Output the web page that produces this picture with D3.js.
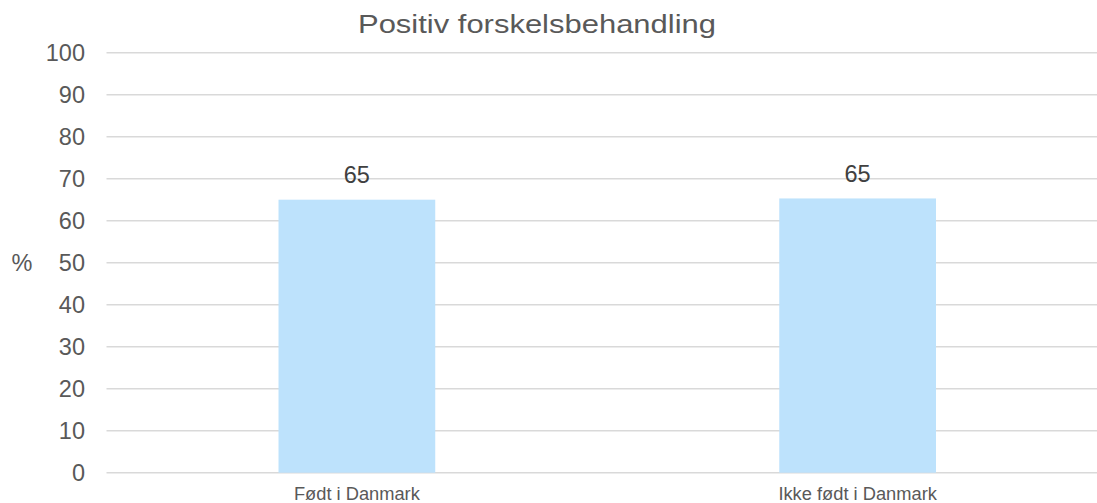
<!DOCTYPE html>
<html><head><meta charset="utf-8">
<script src="https://cdn.jsdelivr.net/npm/d3@7"></script>
<style>body{margin:0;background:#fff}svg{display:block;font-family:Arial,"Liberation Sans",sans-serif}</style>
</head><body><div id="chart"></div>
<script>
const categories = ["Født i Danmark", "Ikke født i Danmark"];
const values = [65.0, 65.3];
const valueLabels = ["65", "65"];
const yTicks = [0,10,20,30,40,50,60,70,80,90,100];
const title = "Positiv forskelsbehandling";
const yAxisLabel = "%";

const W = 1097, H = 503;
const m = {left:106.5, right:-11, top:52.7, bottom:30.3};
const svg = d3.select("#chart").append("svg").attr("width",W).attr("height",H);
const x = d3.scaleBand().domain(categories).range([m.left, W-m.right]).paddingInner(0.687).paddingOuter(0.3435);
const y = d3.scaleLinear().domain([0,100]).range([H-m.bottom, m.top]);

svg.append("g").selectAll("line").data(yTicks).join("line")
  .attr("x1", m.left).attr("x2", W-m.right)
  .attr("y1", d=>y(d)).attr("y2", d=>y(d))
  .attr("stroke","#d9d9d9").attr("stroke-width",1.5);

svg.append("g").selectAll("text").data(yTicks).join("text")
  .attr("x", 85).attr("y", d=>y(d)).attr("dy","0.35em")
  .attr("text-anchor","end").attr("font-size",23.5).attr("fill","#595959").text(d=>d);

svg.append("g").selectAll("rect").data(values).join("rect")
  .attr("x",(d,i)=>x(categories[i])).attr("width",x.bandwidth())
  .attr("y",d=>y(d)).attr("height",d=>y(0)-y(d)).attr("fill","#bde2fc");

svg.append("g").selectAll("text").data(values).join("text")
  .attr("x",(d,i)=>x(categories[i])+x.bandwidth()/2).attr("y",d=>y(d)-16.5)
  .attr("text-anchor","middle").attr("font-size",23.5).attr("fill","#404040").text((d,i)=>valueLabels[i]);

svg.append("g").selectAll("text").data(categories).join("text")
  .attr("x",d=>x(d)+x.bandwidth()/2).attr("y",500)
  .attr("text-anchor","middle").attr("font-size",18.3).attr("fill","#595959").text(d=>d);

svg.append("text").attr("x",358).attr("y",33.3).attr("text-anchor","start")
  .attr("font-size",26.5).attr("textLength",358).attr("lengthAdjust","spacingAndGlyphs")
  .attr("fill","#595959").text(title);

svg.append("text").attr("x",22).attr("y",y(50)).attr("dy","0.35em").attr("text-anchor","middle")
  .attr("font-size",23.5).attr("fill","#595959").text(yAxisLabel);
</script></body></html>
